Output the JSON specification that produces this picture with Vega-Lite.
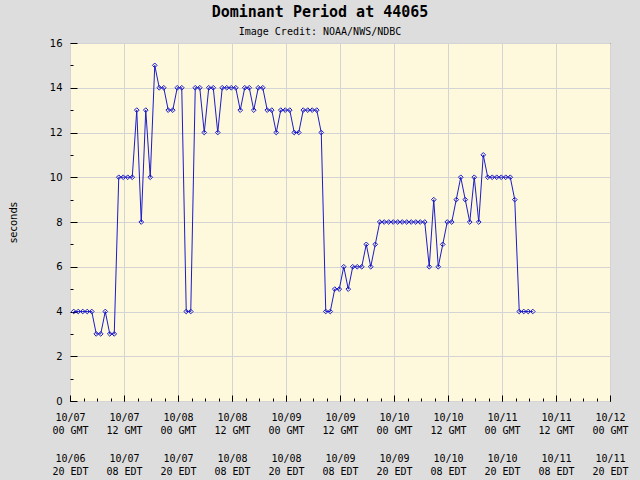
{
  "$schema": "https://vega.github.io/schema/vega-lite/v6.json",
  "width": 540,
  "height": 358,
  "autosize": {"type": "none"},
  "padding": {"left": 70, "top": 43, "right": 30, "bottom": 79},
  "background": "#dddddd",
  "title": {
    "text": "Dominant Period at 44065",
    "subtitle": "Image Credit: NOAA/NWS/NDBC",
    "anchor": "middle",
    "dx": -20,
    "font": "DejaVu Sans Mono",
    "fontSize": 15,
    "fontWeight": "bold",
    "color": "#000000",
    "subtitleFont": "DejaVu Sans Mono",
    "subtitleFontSize": 10,
    "subtitleColor": "#000000",
    "subtitlePadding": 7,
    "offset": 1
  },
  "config": {"view": {"fill": "#fef8dd", "stroke": "#000000", "strokeWidth": 1}},
  "data": {
    "values": [
      {"t": "2023-10-07T00:50:00Z", "v": 4}, {"t": "2023-10-07T01:50:00Z", "v": 4}, {"t": "2023-10-07T02:50:00Z", "v": 4}, {"t": "2023-10-07T03:50:00Z", "v": 4}, {"t": "2023-10-07T04:50:00Z", "v": 4},
      {"t": "2023-10-07T05:50:00Z", "v": 3}, {"t": "2023-10-07T06:50:00Z", "v": 3}, {"t": "2023-10-07T07:50:00Z", "v": 4}, {"t": "2023-10-07T08:50:00Z", "v": 3}, {"t": "2023-10-07T09:50:00Z", "v": 3},
      {"t": "2023-10-07T10:50:00Z", "v": 10}, {"t": "2023-10-07T11:50:00Z", "v": 10}, {"t": "2023-10-07T12:50:00Z", "v": 10}, {"t": "2023-10-07T13:50:00Z", "v": 10}, {"t": "2023-10-07T14:50:00Z", "v": 13},
      {"t": "2023-10-07T15:50:00Z", "v": 8}, {"t": "2023-10-07T16:50:00Z", "v": 13}, {"t": "2023-10-07T17:50:00Z", "v": 10}, {"t": "2023-10-07T18:50:00Z", "v": 15}, {"t": "2023-10-07T19:50:00Z", "v": 14},
      {"t": "2023-10-07T20:50:00Z", "v": 14}, {"t": "2023-10-07T21:50:00Z", "v": 13}, {"t": "2023-10-07T22:50:00Z", "v": 13}, {"t": "2023-10-07T23:50:00Z", "v": 14},
      {"t": "2023-10-08T00:50:00Z", "v": 14}, {"t": "2023-10-08T01:50:00Z", "v": 4}, {"t": "2023-10-08T02:50:00Z", "v": 4}, {"t": "2023-10-08T03:50:00Z", "v": 14}, {"t": "2023-10-08T04:50:00Z", "v": 14},
      {"t": "2023-10-08T05:50:00Z", "v": 12}, {"t": "2023-10-08T06:50:00Z", "v": 14}, {"t": "2023-10-08T07:50:00Z", "v": 14}, {"t": "2023-10-08T08:50:00Z", "v": 12}, {"t": "2023-10-08T09:50:00Z", "v": 14},
      {"t": "2023-10-08T10:50:00Z", "v": 14}, {"t": "2023-10-08T11:50:00Z", "v": 14}, {"t": "2023-10-08T12:50:00Z", "v": 14}, {"t": "2023-10-08T13:50:00Z", "v": 13}, {"t": "2023-10-08T14:50:00Z", "v": 14},
      {"t": "2023-10-08T15:50:00Z", "v": 14}, {"t": "2023-10-08T16:50:00Z", "v": 13}, {"t": "2023-10-08T17:50:00Z", "v": 14}, {"t": "2023-10-08T18:50:00Z", "v": 14}, {"t": "2023-10-08T19:50:00Z", "v": 13},
      {"t": "2023-10-08T20:50:00Z", "v": 13}, {"t": "2023-10-08T21:50:00Z", "v": 12}, {"t": "2023-10-08T22:50:00Z", "v": 13}, {"t": "2023-10-08T23:50:00Z", "v": 13},
      {"t": "2023-10-09T00:50:00Z", "v": 13}, {"t": "2023-10-09T01:50:00Z", "v": 12}, {"t": "2023-10-09T02:50:00Z", "v": 12}, {"t": "2023-10-09T03:50:00Z", "v": 13}, {"t": "2023-10-09T04:50:00Z", "v": 13},
      {"t": "2023-10-09T05:50:00Z", "v": 13}, {"t": "2023-10-09T06:50:00Z", "v": 13}, {"t": "2023-10-09T07:50:00Z", "v": 12}, {"t": "2023-10-09T08:50:00Z", "v": 4}, {"t": "2023-10-09T09:50:00Z", "v": 4},
      {"t": "2023-10-09T10:50:00Z", "v": 5}, {"t": "2023-10-09T11:50:00Z", "v": 5}, {"t": "2023-10-09T12:50:00Z", "v": 6}, {"t": "2023-10-09T13:50:00Z", "v": 5}, {"t": "2023-10-09T14:50:00Z", "v": 6},
      {"t": "2023-10-09T15:50:00Z", "v": 6}, {"t": "2023-10-09T16:50:00Z", "v": 6}, {"t": "2023-10-09T17:50:00Z", "v": 7}, {"t": "2023-10-09T18:50:00Z", "v": 6}, {"t": "2023-10-09T19:50:00Z", "v": 7},
      {"t": "2023-10-09T20:50:00Z", "v": 8}, {"t": "2023-10-09T21:50:00Z", "v": 8}, {"t": "2023-10-09T22:50:00Z", "v": 8}, {"t": "2023-10-09T23:50:00Z", "v": 8},
      {"t": "2023-10-10T00:50:00Z", "v": 8}, {"t": "2023-10-10T01:50:00Z", "v": 8}, {"t": "2023-10-10T02:50:00Z", "v": 8}, {"t": "2023-10-10T03:50:00Z", "v": 8}, {"t": "2023-10-10T04:50:00Z", "v": 8},
      {"t": "2023-10-10T05:50:00Z", "v": 8}, {"t": "2023-10-10T06:50:00Z", "v": 8}, {"t": "2023-10-10T07:50:00Z", "v": 6}, {"t": "2023-10-10T08:50:00Z", "v": 9}, {"t": "2023-10-10T09:50:00Z", "v": 6},
      {"t": "2023-10-10T10:50:00Z", "v": 7}, {"t": "2023-10-10T11:50:00Z", "v": 8}, {"t": "2023-10-10T12:50:00Z", "v": 8}, {"t": "2023-10-10T13:50:00Z", "v": 9}, {"t": "2023-10-10T14:50:00Z", "v": 10},
      {"t": "2023-10-10T15:50:00Z", "v": 9}, {"t": "2023-10-10T16:50:00Z", "v": 8}, {"t": "2023-10-10T17:50:00Z", "v": 10}, {"t": "2023-10-10T18:50:00Z", "v": 8}, {"t": "2023-10-10T19:50:00Z", "v": 11},
      {"t": "2023-10-10T20:50:00Z", "v": 10}, {"t": "2023-10-10T21:50:00Z", "v": 10}, {"t": "2023-10-10T22:50:00Z", "v": 10}, {"t": "2023-10-10T23:50:00Z", "v": 10},
      {"t": "2023-10-11T00:50:00Z", "v": 10}, {"t": "2023-10-11T01:50:00Z", "v": 10}, {"t": "2023-10-11T02:50:00Z", "v": 9}, {"t": "2023-10-11T03:50:00Z", "v": 4}, {"t": "2023-10-11T04:50:00Z", "v": 4},
      {"t": "2023-10-11T05:50:00Z", "v": 4}, {"t": "2023-10-11T06:50:00Z", "v": 4}
    ]
  },
  "resolve": {"axis": {"x": "independent", "y": "independent"}},
  "layer": [
    {
      "mark": {"type": "line", "color": "#1c1cc8", "strokeWidth": 1},
      "encoding": {
        "x": {
          "field": "t",
          "type": "temporal",
          "scale": {"type": "utc", "domain": [1696636800000, 1697068800000], "nice": false},
          "axis": {
            "orient": "bottom",
            "title": null,
            "domain": false,
            "values": [1696636800000, 1696680000000, 1696723200000, 1696766400000, 1696809600000, 1696852800000, 1696896000000, 1696939200000, 1696982400000, 1697025600000, 1697068800000],
            "labelExpr": "[utcFormat(datum.value, '%m/%d'), utcFormat(datum.value, '%H GMT')]",
            "labelOverlap": false,
            "labelFlush": false,
            "labelBound": false,
            "labelFont": "DejaVu Sans Mono",
            "labelFontSize": 10,
            "labelColor": "#000000",
            "labelLineHeight": 13.5,
            "labelBaseline": "top",
            "labelPadding": 17,
            "tickColor": "#000000",
            "tickSize": -6,
            "grid": true,
            "gridColor": "#d4d4d4"
          }
        },
        "y": {
          "field": "v",
          "type": "quantitative",
          "scale": {"domain": [0, 16], "nice": false},
          "axis": {
            "orient": "left",
            "title": "seconds",
            "titleFont": "DejaVu Sans",
            "titleFontSize": 10,
            "titleFontWeight": "normal",
            "titleColor": "#000000",
            "titlePadding": 31,
            "values": [0, 2, 4, 6, 8, 10, 12, 14, 16],
            "labelFont": "DejaVu Sans",
            "labelFontSize": 10,
            "labelColor": "#000000",
            "labelPadding": 15,
            "domain": false,
            "tickColor": "#000000",
            "tickSize": -7,
            "grid": true,
            "gridColor": "#d4d4d4"
          }
        }
      }
    },
    {
      "mark": {"type": "point", "shape": "diamond", "filled": false, "size": 22, "color": "#1c1cc8", "strokeWidth": 1, "opacity": 1},
      "encoding": {
        "x": {
          "field": "t",
          "type": "temporal",
          "axis": {
            "orient": "bottom",
            "title": null,
            "domain": false,
            "values": [1696636800000, 1696647600000, 1696658400000, 1696669200000, 1696680000000, 1696690800000, 1696701600000, 1696712400000, 1696723200000, 1696734000000, 1696744800000, 1696755600000, 1696766400000, 1696777200000, 1696788000000, 1696798800000, 1696809600000, 1696820400000, 1696831200000, 1696842000000, 1696852800000, 1696863600000, 1696874400000, 1696885200000, 1696896000000, 1696906800000, 1696917600000, 1696928400000, 1696939200000, 1696950000000, 1696960800000, 1696971600000, 1696982400000, 1696993200000, 1697004000000, 1697014800000, 1697025600000, 1697036400000, 1697047200000, 1697058000000, 1697068800000],
            "labelExpr": "utchours(datum.value) % 12 == 0 ? [utcFormat(datum.value - 14400000, '%m/%d'), utcFormat(datum.value - 14400000, '%H EDT')] : ''",
            "labelOverlap": false,
            "labelFlush": false,
            "labelBound": false,
            "labelFont": "DejaVu Sans Mono",
            "labelFontSize": 10,
            "labelColor": "#000000",
            "labelLineHeight": 13,
            "labelBaseline": "top",
            "labelPadding": 55,
            "tickColor": "#000000",
            "tickSize": -3,
            "grid": false
          }
        },
        "y": {
          "field": "v",
          "type": "quantitative",
          "axis": {
            "orient": "left",
            "title": null,
            "values": [1, 3, 5, 7, 9, 11, 13, 15],
            "labels": false,
            "domain": false,
            "tickColor": "#000000",
            "tickSize": -3,
            "grid": false
          }
        }
      }
    }
  ]
}
